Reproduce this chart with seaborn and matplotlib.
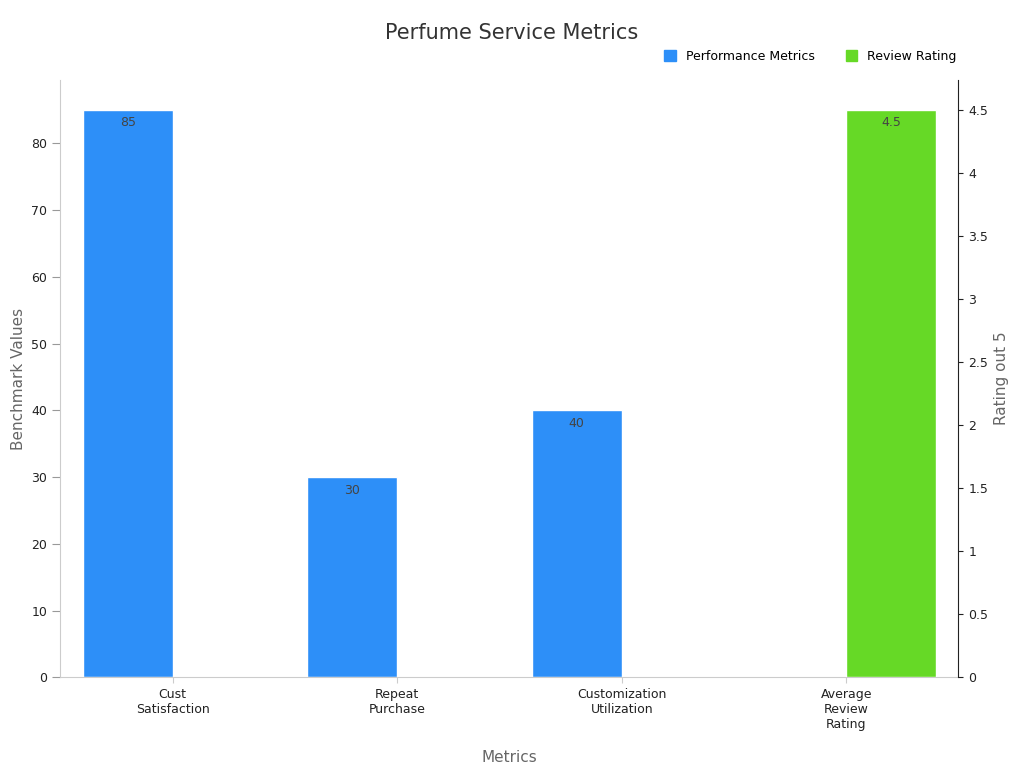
import numpy as np
import pandas as pd
import matplotlib.pyplot as plt
import seaborn as sns
from matplotlib.patches import Patch

# data
categories = ["Cust\nSatisfaction", "Repeat\nPurchase", "Customization\nUtilization", "Average\nReview\nRating"]
perf_values = [85, 30, 40]
rating_values = [4.5]
series = ["Performance Metrics", "Review Rating"]
colors = ["#2d8ff8", "#66d926"]

perf_df = pd.DataFrame({"cat": categories[:3], "val": perf_values, "s": series[0]})
rate_df = pd.DataFrame({"cat": categories[3:], "val": rating_values, "s": series[1]})

fig, ax = plt.subplots(figsize=(10.24, 7.68), dpi=100)
fig.subplots_adjust(left=0.059, right=0.936, top=0.896, bottom=0.118)
ax2 = ax.twinx()

sns.barplot(data=perf_df, x="cat", y="val", hue="s", hue_order=series, order=categories,
            palette=colors, width=0.8, dodge=True, saturation=1, ax=ax,
            edgecolor="white", linewidth=1, legend=False)
sns.barplot(data=rate_df, x="cat", y="val", hue="s", hue_order=series, order=categories,
            palette=colors, width=0.8, dodge=True, saturation=1, ax=ax2,
            edgecolor="white", linewidth=1, legend=False)

ax.set_xlim(-0.5, 3.5)
ax.set_ylim(0, 89.5)
ax2.set_ylim(0, 89.5 / 85 * 4.5)
ax.set_yticks(range(0, 81, 10))
ax2.set_yticks(np.arange(0, 4.6, 0.5))
ax2.set_yticklabels(["0", "0.5", "1", "1.5", "2", "2.5", "3", "3.5", "4", "4.5"])

for c in ax.containers:
    ax.bar_label(c, labels=[f"{v:.0f}" if not np.isnan(v) else "" for v in c.datavalues],
                 padding=-14, fontsize=9, color="#444444")
for c in ax2.containers:
    ax2.bar_label(c, labels=[f"{v:g}" if not np.isnan(v) else "" for v in c.datavalues],
                  padding=-14, fontsize=9, color="#444444")

for a in (ax, ax2):
    a.spines["top"].set_visible(False)
    a.tick_params(labelsize=9, colors="#222222")
ax.spines["left"].set_color("#cccccc")
ax.spines["bottom"].set_color("#cccccc")
ax.spines["right"].set_visible(False)
ax2.spines["left"].set_visible(False)
ax2.spines["bottom"].set_visible(False)
ax2.spines["right"].set_color("#222222")
ax.tick_params(axis="x", length=4, color="#cccccc")
ax.tick_params(axis="y", length=6, color="#999999")

ax.set_xlabel("Metrics", fontsize=11, color="#666666", labelpad=14)
ax.set_ylabel("Benchmark Values", fontsize=11, color="#666666")
ax2.set_ylabel("Rating out 5", fontsize=11, color="#666666")
ax2.set_xlabel("")

fig.suptitle("Perfume Service Metrics", fontsize=15, color="#333333", y=0.97)
handles = [Patch(color=colors[0], label=series[0]), Patch(color=colors[1], label=series[1])]
fig.legend(handles=handles, loc="upper right", bbox_to_anchor=(0.945, 0.95), ncol=2,
           frameon=False, fontsize=9, handlelength=0.9, handleheight=0.9, columnspacing=2.5)

fig.savefig("out.png", dpi=100)
